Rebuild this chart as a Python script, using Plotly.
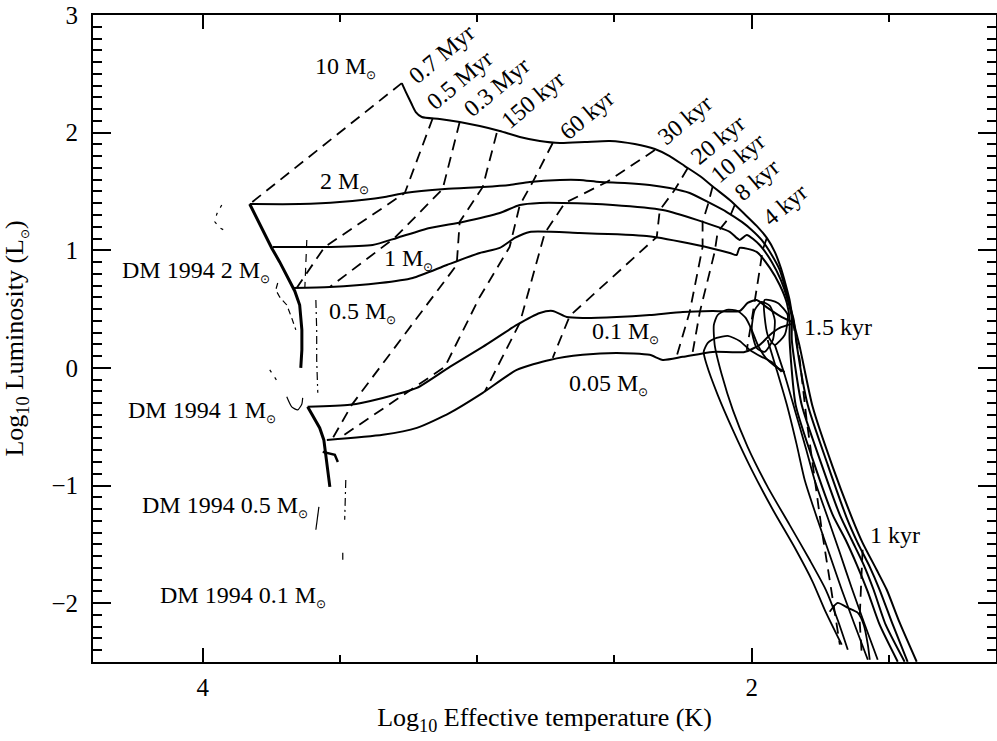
import plotly.graph_objects as go

FONT = "Liberation Serif, Times New Roman, serif"

# ---------------- evolutionary tracks (log Teff, log L) ----------------
m10_x = [3.275, 3.260, 3.239, 3.224, 3.202, 3.137, 3.064, 2.991, 2.918, 2.845, 2.772, 2.699, 2.608, 2.517, 2.426,
         2.353, 2.299, 2.244, 2.189, 2.135, 2.080, 2.026, 1.982, 1.945, 1.916, 1.894, 1.876, 1.862, 1.851, 1.825,
         1.778, 1.705, 1.632, 1.596, 1.545, 1.508, 1.461, 1.399]
m10_y = [2.421, 2.345, 2.243, 2.175, 2.133, 2.116, 2.090, 2.056, 2.014, 1.963, 1.929, 1.912, 1.920, 1.929, 1.903,
         1.861, 1.801, 1.716, 1.631, 1.529, 1.427, 1.308, 1.207, 1.105, 0.986, 0.850, 0.705, 0.578, 0.425, 0.179,
         -0.331, -0.841, -1.291, -1.487, -1.716, -1.886, -2.166, -2.498]

m2_x = [3.829, 3.647, 3.501, 3.337, 3.264, 3.118, 2.980, 2.882, 2.809, 2.699, 2.627, 2.554, 2.463, 2.372, 2.299,
        2.226, 2.153, 2.091, 2.036, 2.000, 1.964, 1.927, 1.898, 1.876, 1.862, 1.847, 1.836, 1.796, 1.723, 1.654,
        1.614, 1.570, 1.534, 1.486, 1.432]
m2_y = [1.393, 1.393, 1.410, 1.453, 1.487, 1.521, 1.538, 1.555, 1.580, 1.597, 1.597, 1.580, 1.572, 1.555, 1.529,
        1.487, 1.402, 1.325, 1.241, 1.173, 1.088, 0.960, 0.833, 0.663, 0.535, 0.408, 0.196, -0.314, -0.824, -1.274,
        -1.487, -1.691, -1.886, -2.183, -2.498]

m1_x = [3.745, 3.537, 3.381, 3.293, 3.173, 3.053, 2.918, 2.845, 2.772, 2.689, 2.506, 2.324, 2.200, 2.080, 2.044,
        2.018, 1.971, 1.927, 1.894, 1.869, 1.854, 1.854, 1.818, 1.745, 1.679, 1.636, 1.592, 1.556, 1.512, 1.443]
m1_y = [1.028, 1.028, 1.045, 1.105, 1.190, 1.241, 1.317, 1.385, 1.402, 1.402, 1.385, 1.342, 1.258, 1.156, 1.088,
        1.130, 1.045, 0.901, 0.748, 0.578, 0.425, 0.238, -0.314, -0.824, -1.249, -1.461, -1.674, -1.886, -2.183, -2.498]

m05_x = [3.672, 3.537, 3.355, 3.235, 3.111, 2.991, 2.918, 2.863, 2.809, 2.627, 2.383, 2.200, 2.080, 2.055, 2.044,
         1.982, 1.934, 1.898, 1.872, 1.862, 1.862, 1.840, 1.771, 1.705, 1.658, 1.617, 1.577, 1.534, 1.468]
m05_y = [0.680, 0.688, 0.722, 0.765, 0.875, 0.977, 1.020, 1.105, 1.156, 1.147, 1.122, 1.045, 0.977, 0.960, 1.020,
         0.986, 0.850, 0.705, 0.552, 0.408, 0.238, -0.314, -0.824, -1.249, -1.461, -1.674, -1.903, -2.183, -2.498]

m01_x = [3.618, 3.464, 3.344, 3.220, 3.100, 2.980, 2.856, 2.772, 2.725, 2.674, 2.616, 2.492, 2.372, 2.251, 2.142,
         2.044, 2.015, 1.982, 1.942, 1.898, 1.854]
m01_y = [-0.331, -0.314, -0.255, -0.170, 0.009, 0.179, 0.365, 0.467, 0.484, 0.433, 0.425, 0.433, 0.450, 0.476, 0.484,
         0.484, 0.552, 0.578, 0.510, 0.442, 0.391]

m005_x = [3.548, 3.344, 3.220, 3.100, 2.980, 2.856, 2.736, 2.616, 2.492, 2.372, 2.324, 2.251, 2.142, 2.026, 1.971,
          1.934, 1.898, 1.854]
m005_y = [-0.612, -0.569, -0.510, -0.382, -0.212, -0.017, 0.068, 0.111, 0.127, 0.111, 0.068, 0.094, 0.136, 0.136,
          0.196, 0.280, 0.340, 0.374]

# early (accretion) branches of the low-mass tracks
dome1_x = [1.672, 1.734, 1.778, 1.843, 1.923, 2.000, 2.069, 2.124, 2.164, 2.175, 2.160, 2.128, 2.087, 2.044, 2.007,
           1.964, 1.927, 1.891]
dome1_y = [-2.353, -2.056, -1.818, -1.529, -1.206, -0.867, -0.527, -0.229, 0.026, 0.136, 0.212, 0.255, 0.272, 0.229,
           0.153, 0.094, 0.051, -0.034]
dome2_x = [1.650, 1.687, 1.730, 1.789, 1.862, 1.942, 2.015, 2.069, 2.109, 2.135, 2.138, 2.124, 2.091, 2.051, 2.022,
           2.000, 1.978, 1.949, 1.916, 1.880]
dome2_y = [-2.396, -2.141, -1.886, -1.631, -1.334, -1.011, -0.671, -0.357, -0.059, 0.196, 0.365, 0.450, 0.493, 0.484,
           0.425, 0.323, 0.196, 0.085, 0.017, -0.034]
branchG_x = [1.942, 1.909, 1.872, 1.836, 1.807, 1.760, 1.716, 1.672, 1.625, 1.577]
branchG_y = [0.238, -0.017, -0.314, -0.654, -0.952, -1.291, -1.589, -1.886, -2.183, -2.481]
branchH_x = [1.916, 1.880, 1.843, 1.803, 1.771, 1.723, 1.679, 1.636, 1.588, 1.541]
branchH_y = [0.196, -0.059, -0.357, -0.680, -0.952, -1.274, -1.572, -1.869, -2.183, -2.481]
wiggle_x = [1.716, 1.687, 1.650, 1.614, 1.592, 1.577, 1.570]
wiggle_y = [-2.073, -1.997, -2.039, -2.081, -2.183, -2.353, -2.481]
loop1_x = [2.000, 1.989, 1.964, 1.934, 1.916, 1.923, 1.953, 1.982, 2.000]
loop1_y = [0.323, 0.493, 0.561, 0.527, 0.408, 0.238, 0.136, 0.170, 0.323]
loop2_x = [1.953, 1.905, 1.869, 1.880, 1.916, 1.942, 1.953]
loop2_y = [0.578, 0.552, 0.450, 0.280, 0.196, 0.280, 0.578]

# end sections of the tracks (left edge)
end1_x = [3.829, 3.800, 3.774, 3.749, 3.720, 3.690, 3.665, 3.647, 3.639, 3.639, 3.643]
end1_y = [1.393, 1.258, 1.130, 1.020, 0.901, 0.773, 0.654, 0.535, 0.323, 0.153, 0.000]
end2_x = [3.618, 3.596, 3.574, 3.559, 3.552, 3.545, 3.537]
end2_y = [-0.331, -0.425, -0.510, -0.612, -0.739, -0.867, -1.011]
end2h_x = [3.563, 3.519, 3.508]
end2h_y = [-0.714, -0.739, -0.799]

# D'Antona & Mazzitelli 1994 fragments
dm2a_x = [3.931, 3.949, 3.956, 3.938, 3.916]
dm2a_y = [1.385, 1.308, 1.241, 1.190, 1.164]
dm2b_x = [3.621, 3.628]
dm2b_y = [1.088, 0.688]
dm2c_x = [3.727, 3.734, 3.720, 3.694, 3.676, 3.661]
dm2c_y = [0.722, 0.663, 0.603, 0.535, 0.425, 0.323]
dm2d_x = [3.588, 3.585, 3.585, 3.581]
dm2d_y = [0.578, 0.323, 0.068, -0.212]
dm1a_x = [3.756, 3.738, 3.720]
dm1a_y = [-0.017, -0.085, -0.144]
dm1b_x = [3.694, 3.676, 3.654, 3.639, 3.636]
dm1b_y = [-0.246, -0.331, -0.357, -0.306, -0.255]
dm05_x = [3.577, 3.581, 3.588]
dm05_y = [-1.181, -1.266, -1.376]
dm01a_x = [3.479, 3.483]
dm01a_y = [-0.952, -1.291]
dm01b_x = [3.490, 3.490]
dm01b_y = [-1.572, -1.631]

# ---------------- isochrones ----------------
iso07_x = [3.275, 3.829]
iso07_y = [2.421, 1.393]
iso05_x = [3.162, 3.264, 3.556, 3.658]
iso05_y = [2.124, 1.487, 1.028, 0.680]
iso03_x = [3.064, 3.126, 3.301, 3.537]
iso03_y = [2.090, 1.521, 1.105, 0.688]
iso150_x = [2.929, 2.980, 3.064, 3.075, 3.457, 3.526]
iso150_y = [1.997, 1.538, 1.241, 0.875, -0.314, -0.595]
iso60_x = [2.725, 2.798, 2.845, 2.882, 2.991, 3.118, 3.501]
iso60_y = [1.912, 1.580, 1.385, 1.028, 0.603, 0.009, -0.595]
iso30_x = [2.353, 2.528, 2.681, 2.754, 2.845, 2.973]
iso30_y = [1.852, 1.580, 1.402, 1.147, 0.382, -0.204]
iso20_x = [2.233, 2.281, 2.335, 2.346, 2.663, 2.725]
iso20_y = [1.699, 1.512, 1.342, 1.113, 0.442, 0.085]
iso10_x = [2.142, 2.160, 2.179, 2.179, 2.226, 2.273]
iso10_y = [1.546, 1.385, 1.241, 1.028, 0.476, 0.102]
iso8_x = [2.062, 2.080, 2.124, 2.135, 2.189, 2.215]
iso8_y = [1.385, 1.283, 1.156, 0.986, 0.476, 0.136]
iso4_x = [1.945, 1.960, 1.971, 1.982, 2.000, 2.018]
iso4_y = [1.105, 1.003, 0.833, 0.663, 0.408, 0.153]
iso15_x = [1.851, 1.825, 1.800, 1.771, 1.745, 1.716, 1.690, 1.679]
iso15_y = [0.408, 0.068, -0.442, -0.952, -1.376, -1.801, -2.183, -2.353]
iso1_x = [1.596, 1.603, 1.607, 1.599]
iso1_y = [-1.546, -1.886, -2.141, -2.438]

# ---------------- labels ----------------
iso_labels = ["0.7 Myr", "0.5 Myr", "0.3 Myr", "150 kyr", "60 kyr", "30 kyr", "20 kyr", "10 kyr", "8 kyr", "4 kyr"]
iso_label_x = [3.129, 3.064, 2.929, 2.798, 2.601, 2.244, 2.124, 2.051, 1.982, 1.880]
iso_label_y = [2.668, 2.447, 2.387, 2.277, 2.150, 2.107, 1.937, 1.784, 1.597, 1.385]

SUN = '<sub><span style="font-size:12px">⊙</span></sub>'
left_labels = ["10 M" + SUN, "2 M" + SUN, "1 M" + SUN, "0.5 M" + SUN, "0.1 M" + SUN, "0.05 M" + SUN,
               "1.5 kyr", "1 kyr"]
left_label_x = [3.599, 3.581, 3.348, 3.548, 2.590, 2.674, 1.818, 1.577]
left_label_y = [2.557, 1.572, 0.918, 0.467, 0.297, -0.144, 0.348, -1.419]

dm_labels = ["DM 1994 2 M" + SUN, "DM 1994 1 M" + SUN, "DM 1994 0.5 M" + SUN, "DM 1994 0.1 M" + SUN]
dm_label_x = [3.749, 3.727, 3.610, 3.545]
dm_label_y = [0.816, -0.374, -1.181, -1.946]

fig = go.Figure()


def add_line(x, y, width=2.0, dash="solid", shape="spline"):
    fig.add_trace(go.Scatter(
        x=x, y=y, mode="lines",
        line=dict(color="black", width=width, dash=dash, shape=shape, smoothing=0.6),
        hoverinfo="skip", showlegend=False))


ISO_DASH = "11px,7px"
for xs, ys in [(iso07_x, iso07_y), (iso05_x, iso05_y), (iso03_x, iso03_y), (iso150_x, iso150_y),
               (iso60_x, iso60_y), (iso30_x, iso30_y), (iso20_x, iso20_y), (iso10_x, iso10_y),
               (iso8_x, iso8_y), (iso4_x, iso4_y), (iso15_x, iso15_y), (iso1_x, iso1_y)]:
    add_line(xs, ys, width=1.8, dash=ISO_DASH, shape="linear")

for xs, ys in [(m10_x, m10_y), (m2_x, m2_y), (m1_x, m1_y), (m05_x, m05_y), (m01_x, m01_y), (m005_x, m005_y)]:
    add_line(xs, ys, width=2.0)

for xs, ys in [(dome1_x, dome1_y), (dome2_x, dome2_y), (branchG_x, branchG_y), (branchH_x, branchH_y),
               (wiggle_x, wiggle_y), (loop1_x, loop1_y), (loop2_x, loop2_y)]:
    add_line(xs, ys, width=1.8)

add_line(end1_x, end1_y, width=3.0, shape="linear")
add_line(end2_x, end2_y, width=3.0, shape="linear")
add_line(end2h_x, end2h_y, width=2.5, shape="linear")

add_line(dm2a_x, dm2a_y, width=1.2, dash="3px,6px", shape="linear")
add_line(dm2b_x, dm2b_y, width=1.2, dash="8px,6px", shape="linear")
add_line(dm2c_x, dm2c_y, width=1.2, dash="6px,4px", shape="linear")
add_line(dm2d_x, dm2d_y, width=1.2, dash="8px,4px,2px,4px", shape="linear")
add_line(dm1a_x, dm1a_y, width=1.2, dash="3px,6px", shape="linear")
add_line(dm1b_x, dm1b_y, width=1.2, shape="spline")
add_line(dm05_x, dm05_y, width=1.2, shape="linear")
add_line(dm01a_x, dm01a_y, width=1.2, dash="8px,4px,2px,4px", shape="linear")
add_line(dm01b_x, dm01b_y, width=1.2, shape="linear")

LABEL_FONT = dict(size=24, family=FONT, color="black")
annotations = []
for t, x, y in zip(iso_labels, iso_label_x, iso_label_y):
    annotations.append(dict(x=x, y=y, text=t, showarrow=False, textangle=-40,
                            xanchor="center", yanchor="middle", font=LABEL_FONT))
for t, x, y in zip(left_labels, left_label_x, left_label_y):
    annotations.append(dict(x=x, y=y, text=t, showarrow=False, xanchor="left", yanchor="middle",
                            font=LABEL_FONT))
for t, x, y in zip(dm_labels, dm_label_x, dm_label_y):
    annotations.append(dict(x=x, y=y, text=t, showarrow=False, xanchor="right", yanchor="middle",
                            font=LABEL_FONT))

axis_common = dict(ticks="inside", tickwidth=2, tickcolor="black", showline=True, linecolor="black",
                   linewidth=2, mirror="allticks", showgrid=False, zeroline=False, automargin=False,
                   layer="above traces", ticklabeloverflow="allow",
                   tickfont=dict(size=25, family=FONT, color="black"))

fig.update_layout(
    width=997, height=741,
    margin=dict(l=93, r=1, t=15, b=79),
    paper_bgcolor="white", plot_bgcolor="rgba(0,0,0,0)",
    font=dict(family=FONT, size=24, color="black"),
    showlegend=False,
    annotations=annotations,
    xaxis=dict(range=[4.4, 1.11], dtick=2, tick0=0, ticklen=14,
               minor=dict(dtick=0.5, tick0=0, ticks="inside", ticklen=7, tickwidth=2, tickcolor="black",
                          showgrid=False),
               ticklabelstandoff=2,
               title=dict(text="Log<sub>10</sub> Effective temperature (K)", font=dict(size=26, family=FONT),
                          standoff=8),
               **axis_common),
    yaxis=dict(range=[-2.5, 3], dtick=1, tick0=0, ticklen=18,
               minor=dict(dtick=0.1, tick0=0, ticks="inside", ticklen=9, tickwidth=2, tickcolor="black",
                          showgrid=False),
               ticklabelstandoff=8,
               title=dict(text="Log<sub>10</sub> Luminosity (L" + SUN + ")", font=dict(size=26, family=FONT),
                          standoff=20),
               **axis_common),
)

# remove the browser's default 8 px body margin so the figure sits at the window origin
fig.write_html("out.html", config={"displayModeBar": False},
               post_script="document.body.style.margin='0px';")
